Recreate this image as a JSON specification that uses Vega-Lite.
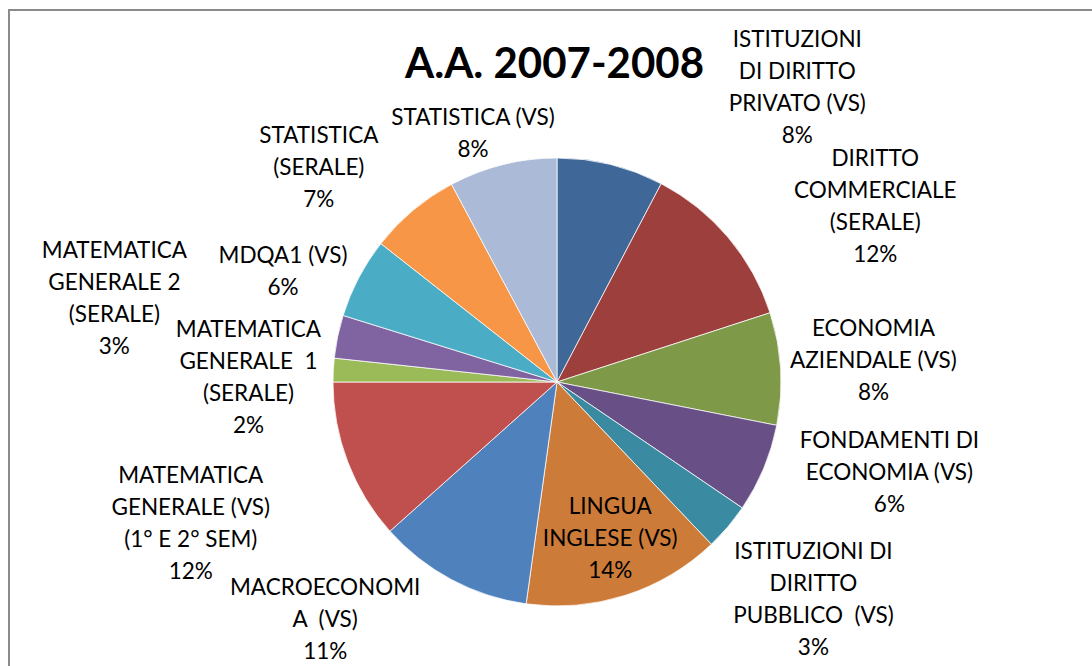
{
  "$schema": "https://vega.github.io/schema/vega-lite/v6.json",
  "width": 1096,
  "height": 744,
  "autosize": {"type": "none"},
  "padding": {"left": 9, "top": 10, "right": -13, "bottom": -88},
  "background": "white",
  "config": {"view": {"stroke": "#8a8a8a", "strokeWidth": 2}},
  "title": {
    "text": "Grafico 4: percentuale iscritti corsi serali e VS ala 2007/2008",
    "anchor": "start", "frame": "group", "font": "Liberation Serif", "fontStyle": "italic",
    "fontWeight": "normal", "fontSize": 31, "color": "#000000", "baseline": "alphabetic", "offset": -6
  },
  "data": {"values": [
    {"ord": 1, "name": "ISTITUZIONI DI DIRITTO PRIVATO (VS)", "value": 7.7, "lines": ["ISTITUZIONI", "DI DIRITTO", "PRIVATO (VS)", "8%"]},
    {"ord": 2, "name": "DIRITTO COMMERCIALE (SERALE)", "value": 12.3, "lines": ["DIRITTO", "COMMERCIALE", "(SERALE)", "12%"]},
    {"ord": 3, "name": "ECONOMIA AZIENDALE (VS)", "value": 8.1, "lines": ["ECONOMIA", "AZIENDALE (VS)", "8%"]},
    {"ord": 4, "name": "FONDAMENTI DI ECONOMIA (VS)", "value": 6.4, "lines": ["FONDAMENTI DI", "ECONOMIA (VS)", "6%"]},
    {"ord": 5, "name": "ISTITUZIONI DI DIRITTO PUBBLICO (VS)", "value": 3.4, "lines": ["ISTITUZIONI DI", "DIRITTO", "PUBBLICO \u00a0(VS)", "3%"]},
    {"ord": 6, "name": "LINGUA INGLESE (VS)", "value": 14.3, "lines": ["LINGUA", "INGLESE (VS)", "14%"]},
    {"ord": 7, "name": "MACROECONOMIA (VS)", "value": 11.2, "lines": ["MACROECONOMI", "A \u00a0(VS)", "11%"]},
    {"ord": 8, "name": "MATEMATICA GENERALE (VS) (1° E 2° SEM)", "value": 11.6, "lines": ["MATEMATICA", "GENERALE (VS)", "(1° E 2° SEM)", "12%"]},
    {"ord": 9, "name": "MATEMATICA GENERALE 1 (SERALE)", "value": 1.7, "lines": ["MATEMATICA", "GENERALE \u00a01", "(SERALE)", "2%"]},
    {"ord": 10, "name": "MATEMATICA GENERALE 2 (SERALE)", "value": 3.1, "lines": ["MATEMATICA", "GENERALE 2", "(SERALE)", "3%"]},
    {"ord": 11, "name": "MDQA1 (VS)", "value": 5.8, "lines": ["MDQA1 (VS)", "6%"]},
    {"ord": 12, "name": "STATISTICA (SERALE)", "value": 6.6, "lines": ["STATISTICA", "(SERALE)", "7%"]},
    {"ord": 13, "name": "STATISTICA (VS)", "value": 7.8, "lines": ["STATISTICA (VS)", "8%"]}
  ]},
  "layer": [
    {
      "mark": {"type": "point", "opacity": 0},
      "encoding": {
        "x": {"field": "name", "type": "nominal", "axis": {
          "orient": "top", "labels": false, "ticks": false, "domain": false, "grid": false,
          "title": "A.A. 2007-2008", "titleFont": "Lato", "titleFontWeight": "bold", "titleFontSize": 42,
          "titleColor": "#000000", "titleX": 545, "titleY": 67, "titleAlign": "center", "titleBaseline": "alphabetic", "titleAngle": 0
        }}
      }
    },
    {
      "mark": {"type": "arc", "outerRadius": 224, "stroke": "#ffffff", "strokeWidth": 0.75},
      "encoding": {
        "theta": {"field": "value", "type": "quantitative", "stack": true},
        "order": {"field": "ord", "type": "quantitative"},
        "color": {"field": "name", "type": "nominal", "legend": null, "scale": {
          "domain": ["ISTITUZIONI DI DIRITTO PRIVATO (VS)", "DIRITTO COMMERCIALE (SERALE)", "ECONOMIA AZIENDALE (VS)", "FONDAMENTI DI ECONOMIA (VS)", "ISTITUZIONI DI DIRITTO PUBBLICO (VS)", "LINGUA INGLESE (VS)", "MACROECONOMIA (VS)", "MATEMATICA GENERALE (VS) (1° E 2° SEM)", "MATEMATICA GENERALE 1 (SERALE)", "MATEMATICA GENERALE 2 (SERALE)", "MDQA1 (VS)", "STATISTICA (SERALE)", "STATISTICA (VS)"],
          "range": ["#3F6899", "#9D3F3D", "#7E9A48", "#684F86", "#3A8BA1", "#CD7B38", "#4F81BD", "#C0504D", "#9BBB59", "#8064A2", "#4BACC6", "#F79646", "#AABAD7"]
        }}
      }
    },
    {"mark": {"type": "text", "radius": 381, "dx": 149, "dy": 28, "font": "Lato", "fontSize": 22.5, "lineHeight": 32, "baseline": "middle", "align": "center", "color": "#000000"},
     "encoding": {"theta": {"field": "value", "type": "quantitative", "stack": true}, "order": {"field": "ord", "type": "quantitative"}, "text": {"condition": {"test": "datum.ord == 1", "field": "lines", "type": "nominal"}, "value": ""}}},
    {"mark": {"type": "text", "radius": 364, "dx": 40, "dy": 12, "font": "Lato", "fontSize": 22.5, "lineHeight": 32, "baseline": "middle", "align": "center", "color": "#000000"},
     "encoding": {"theta": {"field": "value", "type": "quantitative", "stack": true}, "order": {"field": "ord", "type": "quantitative"}, "text": {"condition": {"test": "datum.ord == 2", "field": "lines", "type": "nominal"}, "value": ""}}},
    {"mark": {"type": "text", "radius": 317, "dx": 0, "dy": -34, "font": "Lato", "fontSize": 22.5, "lineHeight": 32, "baseline": "middle", "align": "center", "color": "#000000"},
     "encoding": {"theta": {"field": "value", "type": "quantitative", "stack": true}, "order": {"field": "ord", "type": "quantitative"}, "text": {"condition": {"test": "datum.ord == 3", "field": "lines", "type": "nominal"}, "value": ""}}},
    {"mark": {"type": "text", "radius": 344, "dx": 15, "dy": -74, "font": "Lato", "fontSize": 22.5, "lineHeight": 32, "baseline": "middle", "align": "center", "color": "#000000"},
     "encoding": {"theta": {"field": "value", "type": "quantitative", "stack": true}, "order": {"field": "ord", "type": "quantitative"}, "text": {"condition": {"test": "datum.ord == 4", "field": "lines", "type": "nominal"}, "value": ""}}},
    {"mark": {"type": "text", "radius": 335, "dx": 1, "dy": -47, "font": "Lato", "fontSize": 22.5, "lineHeight": 32, "baseline": "middle", "align": "center", "color": "#000000"},
     "encoding": {"theta": {"field": "value", "type": "quantitative", "stack": true}, "order": {"field": "ord", "type": "quantitative"}, "text": {"condition": {"test": "datum.ord == 5", "field": "lines", "type": "nominal"}, "value": ""}}},
    {"mark": {"type": "text", "radius": 164, "dx": 3, "dy": -31, "font": "Lato", "fontSize": 22.5, "lineHeight": 32, "baseline": "middle", "align": "center", "color": "#000000"},
     "encoding": {"theta": {"field": "value", "type": "quantitative", "stack": true}, "order": {"field": "ord", "type": "quantitative"}, "text": {"condition": {"test": "datum.ord == 6", "field": "lines", "type": "nominal"}, "value": ""}}},
    {"mark": {"type": "text", "radius": 331, "dx": -76, "dy": -86, "font": "Lato", "fontSize": 22.5, "lineHeight": 32, "baseline": "middle", "align": "center", "color": "#000000"},
     "encoding": {"theta": {"field": "value", "type": "quantitative", "stack": true}, "order": {"field": "ord", "type": "quantitative"}, "text": {"condition": {"test": "datum.ord == 7", "field": "lines", "type": "nominal"}, "value": ""}}},
    {"mark": {"type": "text", "radius": 392, "dx": 0, "dy": -46, "font": "Lato", "fontSize": 22.5, "lineHeight": 32, "baseline": "middle", "align": "center", "color": "#000000"},
     "encoding": {"theta": {"field": "value", "type": "quantitative", "stack": true}, "order": {"field": "ord", "type": "quantitative"}, "text": {"condition": {"test": "datum.ord == 8", "field": "lines", "type": "nominal"}, "value": ""}}},
    {"mark": {"type": "text", "radius": 309, "dx": 0, "dy": -36, "font": "Lato", "fontSize": 22.5, "lineHeight": 32, "baseline": "middle", "align": "center", "color": "#000000"},
     "encoding": {"theta": {"field": "value", "type": "quantitative", "stack": true}, "order": {"field": "ord", "type": "quantitative"}, "text": {"condition": {"test": "datum.ord == 9", "field": "lines", "type": "nominal"}, "value": ""}}},
    {"mark": {"type": "text", "radius": 451, "dx": -1, "dy": -40, "font": "Lato", "fontSize": 22.5, "lineHeight": 32, "baseline": "middle", "align": "center", "color": "#000000"},
     "encoding": {"theta": {"field": "value", "type": "quantitative", "stack": true}, "order": {"field": "ord", "type": "quantitative"}, "text": {"condition": {"test": "datum.ord == 10", "field": "lines", "type": "nominal"}, "value": ""}}},
    {"mark": {"type": "text", "radius": 296, "dx": -12, "dy": 12, "font": "Lato", "fontSize": 22.5, "lineHeight": 32, "baseline": "middle", "align": "center", "color": "#000000"},
     "encoding": {"theta": {"field": "value", "type": "quantitative", "stack": true}, "order": {"field": "ord", "type": "quantitative"}, "text": {"condition": {"test": "datum.ord == 11", "field": "lines", "type": "nominal"}, "value": ""}}},
    {"mark": {"type": "text", "radius": 321, "dx": -32, "dy": 0, "font": "Lato", "fontSize": 22.5, "lineHeight": 32, "baseline": "middle", "align": "center", "color": "#000000"},
     "encoding": {"theta": {"field": "value", "type": "quantitative", "stack": true}, "order": {"field": "ord", "type": "quantitative"}, "text": {"condition": {"test": "datum.ord == 12", "field": "lines", "type": "nominal"}, "value": ""}}},
    {"mark": {"type": "text", "radius": 264, "dx": -20, "dy": -8, "font": "Lato", "fontSize": 22.5, "lineHeight": 32, "baseline": "middle", "align": "center", "color": "#000000"},
     "encoding": {"theta": {"field": "value", "type": "quantitative", "stack": true}, "order": {"field": "ord", "type": "quantitative"}, "text": {"condition": {"test": "datum.ord == 13", "field": "lines", "type": "nominal"}, "value": ""}}}
  ]
}
